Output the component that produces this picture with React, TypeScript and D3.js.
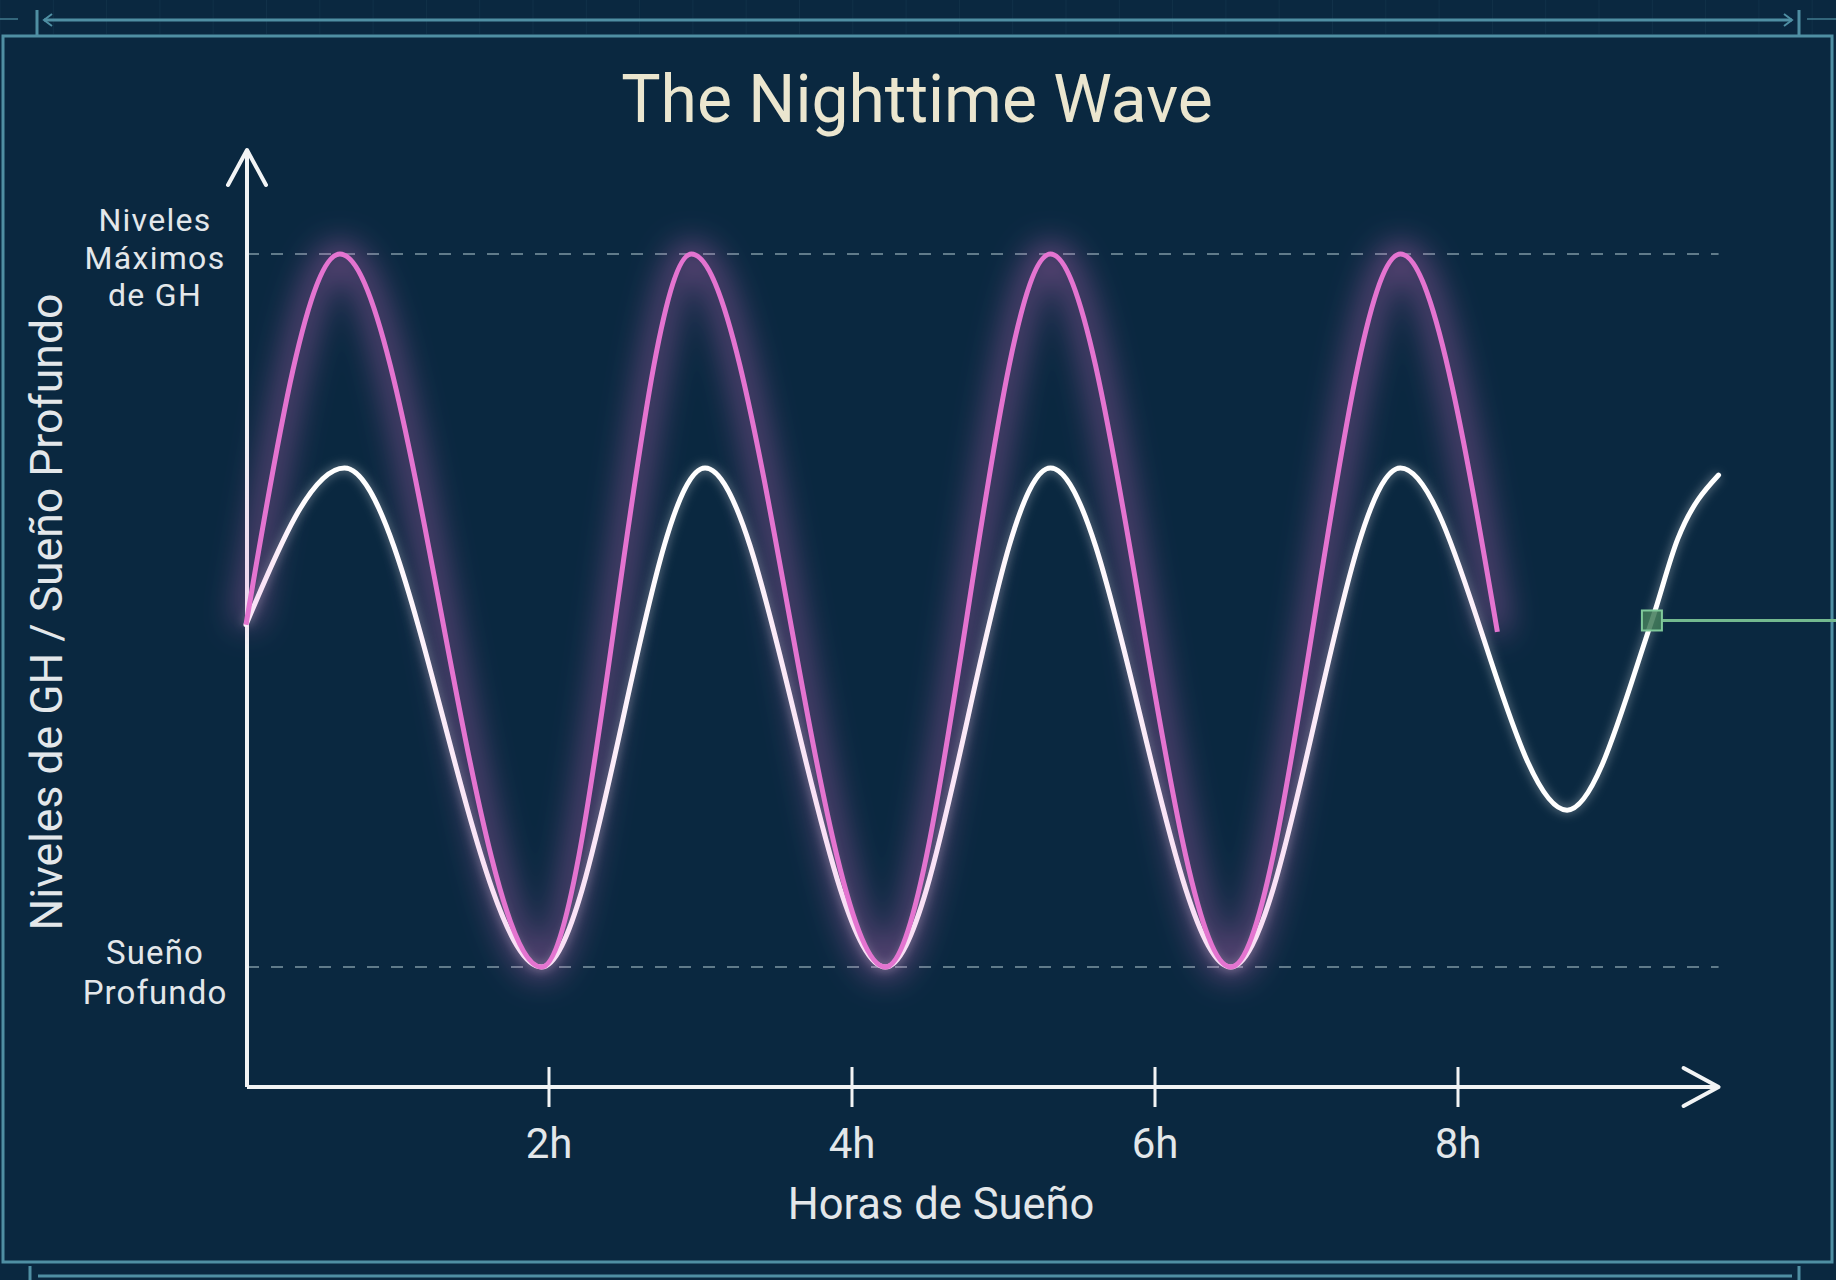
import React from "react";
import * as d3 from "d3";

// ---- data ----
const title = "The Nighttime Wave";
const xTickHours = [2, 4, 6, 8];
const xTickLabels = ["2h", "4h", "6h", "8h"];
const xAxisTitle = "Horas de Sueño";
const yAxisTitle = "Niveles de GH / Sueño Profundo";
const topLabelLines = ["Niveles", "Máximos", "de GH"];
const bottomLabelLines = ["Sueño", "Profundo"];

// GH (pink) series: hours and relative level (0 = deep sleep line, 100 = peak GH line)
const ghHours = [0, 0.62, 1.95, 2.94, 4.22, 5.31, 6.5, 7.62, 8.26];
const ghLevels = [48, 100, 0, 100, 0, 100, 0, 100, 47];

// Sleep (white) series
const sleepHours = [0, 0.65, 1.95, 3.03, 4.22, 5.31, 6.5, 7.62, 8.72, 9.28, 9.45, 9.72];
const sleepLevels = [48, 70, 0, 70, 0, 70, 0, 70, 22, 48.6, 60, 69];

// marker on the sleep curve
const markerHour = 9.28;
const markerLevel = 48.6;

const referenceLevels = [0, 100];

const W = 1836;
const H = 1280;
const BG = "#0a2840";
const FRAME = "#4f8fa3";
const PINK = "#e474d0";
const TEXT = "#e3e7ea";
const FONT = "Roboto, 'Noto Sans', sans-serif";

export default function App() {
  const xMax = 9.72;
  const x = d3.scaleLinear().domain([0, xMax]).range([246, 246 + xMax * 151.5]);
  const y = d3.scaleLinear().domain([0, 100]).range([967, 254]);

  const originX = x(0) + 1;
  const originY = 1087;
  const axisTopY = 150;
  const axisRightX = x(xMax);

  type P = { h: number; v: number };
  const line = d3
    .line<P>()
    .x((d) => x(d.h))
    .y((d) => y(d.v))
    .curve(d3.curveMonotoneX);

  const ghData: P[] = ghHours.map((h, i) => ({ h, v: ghLevels[i] }));
  const sleepData: P[] = sleepHours.map((h, i) => ({ h, v: sleepLevels[i] }));
  const ghPath = line(ghData) || "";
  const sleepPath = line(sleepData) || "";

  const gridXs = d3.range(0, W, 53.3);

  const mx = x(markerHour);
  const my = y(markerLevel);

  return (
    <svg
      width={W}
      height={H}
      viewBox={`0 0 ${W} ${H}`}
      style={{ position: "absolute", left: 0, top: 0, display: "block" }}
    >
      <defs>
        <filter id="pinkGlow" x="-20%" y="-20%" width="140%" height="140%">
          <feGaussianBlur stdDeviation="16" />
        </filter>
        <filter id="whiteGlow" x="-20%" y="-20%" width="140%" height="140%">
          <feGaussianBlur stdDeviation="5" />
        </filter>
      </defs>
      <rect x={0} y={0} width={W} height={H} fill={BG} />

      {/* faint grid in top strip */}
      {gridXs.map((gx, i) => (
        <line key={i} x1={gx} x2={gx} y1={0} y2={34} stroke="#6aa0b5" strokeOpacity={0.08} strokeWidth={1} />
      ))}

      {/* frame */}
      <rect x={3} y={36} width={1829} height={1226} fill="none" stroke={FRAME} strokeWidth={3} />
      {/* top dimension line */}
      <line x1={0} x2={18} y1={19} y2={19} stroke={FRAME} strokeOpacity={0.6} strokeWidth={2} />
      <line x1={37} x2={37} y1={10} y2={36} stroke={FRAME} strokeWidth={3} />
      <line x1={44} x2={1792} y1={20} y2={20} stroke={FRAME} strokeWidth={3} />
      <polyline points="52,14 44,20 52,26" fill="none" stroke={FRAME} strokeWidth={2} />
      <polyline points="1784,14 1792,20 1784,26" fill="none" stroke={FRAME} strokeWidth={2} />
      <line x1={1799} x2={1799} y1={10} y2={36} stroke={FRAME} strokeWidth={3} />
      <line x1={1807} x2={1836} y1={19} y2={19} stroke={FRAME} strokeOpacity={0.6} strokeWidth={2} />
      {/* bottom dimension line */}
      <line x1={30} x2={30} y1={1266} y2={1280} stroke={FRAME} strokeWidth={3} />
      <line x1={38} x2={1792} y1={1276} y2={1276} stroke={FRAME} strokeWidth={3} />
      <line x1={1799} x2={1799} y1={1266} y2={1280} stroke={FRAME} strokeWidth={3} />

      {/* title */}
      <text x={917} y={122} textAnchor="middle" fontFamily={FONT} fontSize={66} fill="#ebe6cf">
        {title}
      </text>

      {/* reference dashed lines */}
      {referenceLevels.map((lv) => (
        <line
          key={lv}
          x1={originX}
          x2={axisRightX}
          y1={y(lv)}
          y2={y(lv)}
          stroke="#8fa8b2"
          strokeOpacity={0.65}
          strokeWidth={2}
          strokeDasharray="12 12"
        />
      ))}

      {/* axes */}
      <line x1={originX} x2={originX} y1={originY} y2={axisTopY + 2} stroke="#f2f4f5" strokeWidth={4} />
      <polyline
        points={`${originX - 19},${axisTopY + 35} ${originX},${axisTopY} ${originX + 19},${axisTopY + 35}`}
        fill="none"
        stroke="#f2f4f5"
        strokeWidth={4}
        strokeLinecap="round"
        strokeLinejoin="round"
      />
      <line x1={originX} x2={axisRightX - 2} y1={originY} y2={originY} stroke="#f2f4f5" strokeWidth={4} />
      <polyline
        points={`${axisRightX - 35},${originY - 19} ${axisRightX},${originY} ${axisRightX - 35},${originY + 19}`}
        fill="none"
        stroke="#f2f4f5"
        strokeWidth={4}
        strokeLinecap="round"
        strokeLinejoin="round"
      />
      {xTickHours.map((h, i) => (
        <g key={h}>
          <line x1={x(h)} x2={x(h)} y1={originY - 20} y2={originY + 20} stroke="#f2f4f5" strokeWidth={3} />
          <text x={x(h)} y={1158} textAnchor="middle" fontFamily={FONT} fontSize={42} fill={TEXT}>
            {xTickLabels[i]}
          </text>
        </g>
      ))}
      <text x={941} y={1219} textAnchor="middle" fontFamily={FONT} fontSize={43.5} fill={TEXT}>
        {xAxisTitle}
      </text>
      <text
        transform={`translate(62, 612) rotate(-90)`}
        textAnchor="middle"
        fontFamily={FONT}
        fontSize={44.5}
        fill={TEXT}
      >
        {yAxisTitle}
      </text>

      {/* level labels */}
      {topLabelLines.map((t, i) => (
        <text
          key={t}
          x={155}
          y={231 + i * 37.5}
          textAnchor="middle"
          fontFamily={FONT}
          fontSize={32}
          letterSpacing={1.3}
          fill={TEXT}
        >
          {t}
        </text>
      ))}
      {bottomLabelLines.map((t, i) => (
        <text
          key={t}
          x={155}
          y={964 + i * 40}
          textAnchor="middle"
          fontFamily={FONT}
          fontSize={33}
          letterSpacing={1.1}
          fill={TEXT}
        >
          {t}
        </text>
      ))}

      {/* sleep curve (white) */}
      <path d={sleepPath} fill="none" stroke="#ffffff" strokeOpacity={0.3} strokeWidth={8} filter="url(#whiteGlow)" />
      <path d={sleepPath} fill="none" stroke="#ffffff" strokeWidth={5} strokeLinecap="round" />

      {/* GH curve (pink) with glow */}
      <path d={ghPath} fill="none" stroke={PINK} strokeOpacity={0.45} strokeWidth={22} filter="url(#pinkGlow)" />
      <path d={ghPath} fill="none" stroke={PINK} strokeWidth={5} strokeLinecap="butt" />

      {/* marker */}
      <line x1={mx + 10} x2={W} y1={my} y2={my} stroke="#74b98f" strokeWidth={3} />
      <rect x={mx - 10} y={my - 10} width={20} height={20} fill="#3f7a58" fillOpacity={0.85} stroke="#7fc99a" strokeWidth={2} />
    </svg>
  );
}
